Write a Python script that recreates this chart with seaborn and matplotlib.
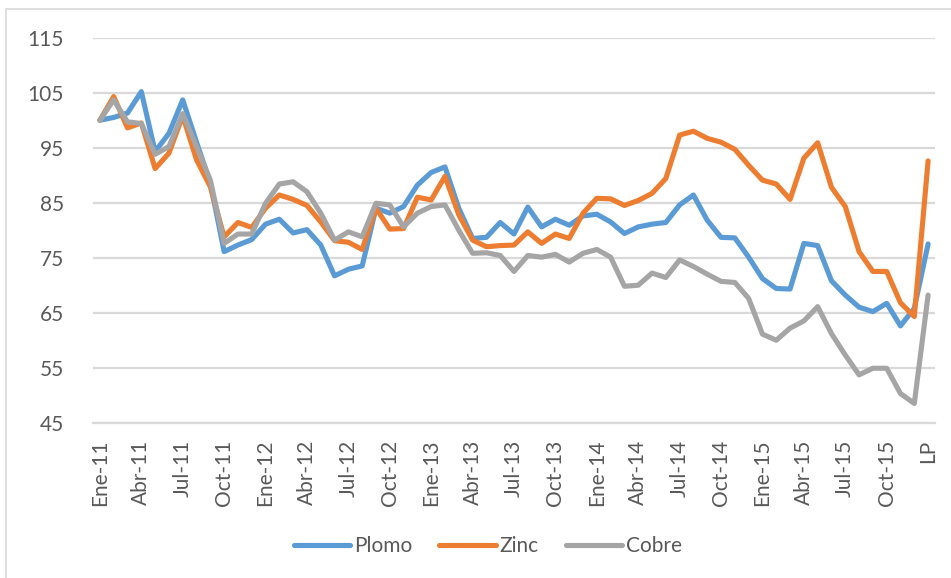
import matplotlib
matplotlib.use("Agg")
import matplotlib.pyplot as plt
from matplotlib.lines import Line2D
import numpy as np
import pandas as pd
import seaborn as sns

# Monthly index series (base Ene-11 = 100) plus long-run price "LP"
month_abbr = ["Ene", "Feb", "Mar", "Abr", "May", "Jun",
              "Jul", "Ago", "Set", "Oct", "Nov", "Dic"]
years = ["11", "12", "13", "14", "15"]
categories = [f"{m}-{y}" for y in years for m in month_abbr] + ["LP"]

plomo = [100.0, 100.5, 101.3, 105.2, 94.3, 97.6, 103.7, 96.0, 88.6, 76.1,
         77.3, 78.3, 81.1, 82.0, 79.5, 80.1, 77.3, 71.7, 72.9, 73.5,
         84.0, 83.1, 84.3, 88.2, 90.5, 91.5, 84.0, 78.5, 78.7, 81.4,
         79.3, 84.2, 80.6, 82.0, 80.9, 82.6, 82.9, 81.5, 79.4, 80.6,
         81.1, 81.4, 84.6, 86.4, 81.8, 78.7, 78.6, 75.1, 71.2, 69.4,
         69.3, 77.6, 77.2, 70.8, 68.2, 66.0, 65.2, 66.7, 62.6, 65.8,
         77.5]

zinc = [100.0, 104.3, 98.6, 99.5, 91.2, 94.0, 100.8, 92.8, 87.9, 78.8,
        81.4, 80.5, 84.0, 86.4, 85.6, 84.5, 81.5, 78.1, 77.8, 76.5,
        84.0, 80.2, 80.3, 86.0, 85.5, 89.8, 82.8, 78.2, 77.0, 77.2,
        77.3, 79.7, 77.6, 79.3, 78.5, 83.1, 85.8, 85.7, 84.5, 85.4,
        86.7, 89.4, 97.3, 98.0, 96.7, 96.0, 94.7, 91.8, 89.1, 88.4,
        85.6, 93.1, 95.9, 87.8, 84.3, 76.1, 72.5, 72.5, 66.8, 64.3,
        92.6]

cobre = [100.0, 103.7, 99.7, 99.4, 93.8, 95.2, 101.2, 95.2, 89.1, 77.6,
         79.3, 79.3, 84.9, 88.4, 88.8, 87.0, 83.1, 78.2, 79.7, 78.8,
         84.9, 84.6, 80.6, 83.1, 84.3, 84.6, 80.0, 75.8, 75.9, 75.4,
         72.5, 75.4, 75.1, 75.6, 74.2, 75.8, 76.5, 75.1, 69.8, 70.0,
         72.2, 71.4, 74.6, 73.4, 72.0, 70.7, 70.5, 67.6, 61.1, 60.0,
         62.2, 63.5, 66.1, 61.2, 57.3, 53.7, 54.9, 54.9, 50.3, 48.5,
         68.2]

series_names = ["Plomo", "Zinc", "Cobre"]
colors = ["#5B9BD5", "#ED7D31", "#A5A5A5"]
y_ticks = [45, 55, 65, 75, 85, 95, 105, 115]

n = len(categories)
df = pd.DataFrame({
    "idx": np.tile(np.arange(n), 3),
    "valor": plomo + zinc + cobre,
    "metal": np.repeat(series_names, n),
})

sns.set_theme(style="white")
plt.rcParams["font.family"] = ["Lato", "DejaVu Sans"]

fig = plt.figure(figsize=(9.51, 5.78), dpi=100)
ax = fig.add_axes([93 / 951, 1 - 422.7 / 578, (935 - 93) / 951, (422.7 - 37.7) / 578])

sns.lineplot(data=df, x="idx", y="valor", hue="metal", hue_order=series_names,
             palette=colors, linewidth=3.7, ax=ax, legend=False, sort=False)
for line in ax.get_lines():
    line.set_solid_joinstyle("round")
    line.set_solid_capstyle("round")

ax.set_xlim(-0.5, n - 0.5)
ax.set_ylim(45, 115)
ax.set_yticks(y_ticks)
ax.set_yticklabels([str(t) for t in y_ticks], fontsize=15, color="#595959")
tick_pos = list(range(0, n, 3))
ax.set_xticks(tick_pos)
ax.set_xticklabels([categories[i] for i in tick_pos], rotation=90,
                   fontsize=15, color="#595959", va="top", ha="center")
ax.tick_params(axis="y", length=0, pad=21)
ax.tick_params(axis="x", length=0, pad=12)
ax.set_xlabel("")
ax.set_ylabel("")

ax.grid(axis="y", color="#D9D9D9", linewidth=1.6)
ax.set_axisbelow(True)
for side in ["top", "right", "left"]:
    ax.spines[side].set_visible(False)
ax.spines["bottom"].set_color("#D9D9D9")
ax.spines["bottom"].set_linewidth(1.6)

# Chart border (left and top edges)
fig.add_artist(Line2D([6 / 951, 6 / 951], [0, 1 - 9 / 578], transform=fig.transFigure,
                      color="#D9D9D9", linewidth=1.2))
fig.add_artist(Line2D([6 / 951, 1], [1 - 9 / 578, 1 - 9 / 578], transform=fig.transFigure,
                      color="#D9D9D9", linewidth=1.2))

handles = [Line2D([0], [0], color=c, linewidth=3.7, solid_capstyle="round") for c in colors]
fig.legend(handles, series_names, loc="center", bbox_to_anchor=(488 / 951, 1 - 546 / 578),
           ncol=3, frameon=False, fontsize=15, handlelength=2.7, handletextpad=0.2,
           columnspacing=1.3, labelcolor="#595959")

fig.savefig("out.png", dpi=100)
